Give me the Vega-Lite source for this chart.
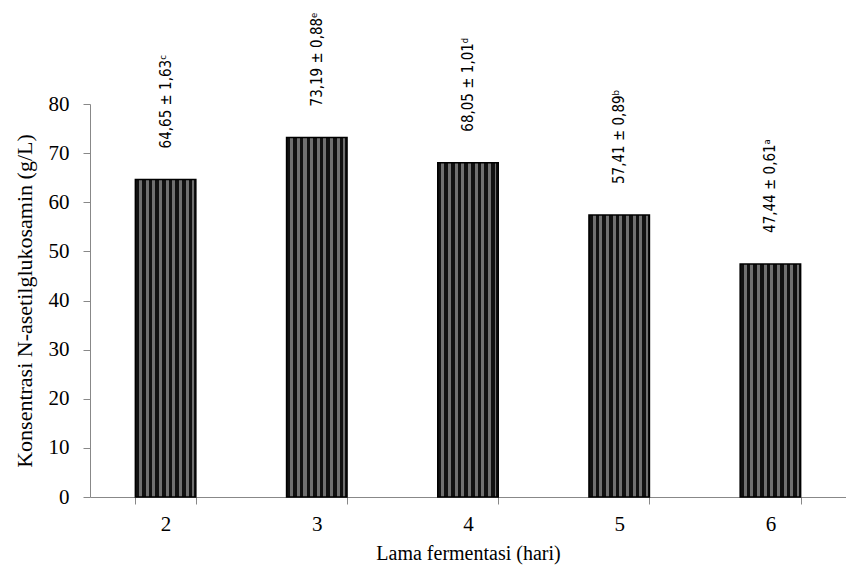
{
  "$schema": "https://vega.github.io/schema/vega-lite/v6.json",
  "width": 756,
  "height": 393,
  "autosize": {"type": "none"},
  "padding": {"left": 90, "top": 104, "right": 0, "bottom": 73},
  "background": "white",
  "config": {
    "view": {"stroke": null},
    "font": "Liberation Serif",
    "axis": {"labelFont": "Liberation Serif", "titleFont": "Liberation Serif"}
  },
  "data": {
    "values": [
      {"hari": "2", "nilai": 64.65, "label": "64,65 ± 1,63ᶜ"},
      {"hari": "3", "nilai": 73.19, "label": "73,19 ± 0,88ᵉ"},
      {"hari": "4", "nilai": 68.05, "label": "68,05 ± 1,01ᵈ"},
      {"hari": "5", "nilai": 57.41, "label": "57,41 ± 0,89ᵇ"},
      {"hari": "6", "nilai": 47.44, "label": "47,44 ± 0,61ᵃ"}
    ]
  },
  "encoding": {
    "x": {
      "field": "hari", "type": "ordinal",
      "scale": {"paddingInner": 0.6, "paddingOuter": 0.3},
      "axis": {
        "title": "Lama fermentasi (hari)",
        "titleFont": "Liberation Serif", "titleFontSize": 20, "titleFontWeight": "normal", "titleColor": "black",
        "titlePadding": 9,
        "labelFont": "Liberation Serif", "labelFontSize": 21, "labelColor": "black", "labelAngle": 0,
        "labelPadding": 9,
        "tickBand": "extent", "tickSize": 7, "tickColor": "#888888", "domainColor": "#888888",
        "grid": false
      }
    },
    "y": {
      "field": "nilai", "type": "quantitative",
      "scale": {"domain": [0, 80], "nice": false},
      "axis": {
        "title": "Konsentrasi N-asetilglukosamin (g/L)",
        "values": [0, 10, 20, 30, 40, 50, 60, 70, 80],
        "titleFont": "Liberation Serif", "titleFontSize": 22, "titleFontWeight": "normal", "titleColor": "black",
        "titlePadding": 12,
        "labelFont": "Liberation Serif", "labelFontSize": 21, "labelColor": "black",
        "labelPadding": 14,
        "tickSize": 7, "tickColor": "#888888", "domainColor": "#888888",
        "grid": false
      }
    }
  },
  "layer": [
    {
      "mark": {
        "type": "bar",
        "stroke": "black",
        "strokeWidth": 1.5,
        "fill": {
          "gradient": "linear", "x1": 0, "x2": 1, "y1": 0, "y2": 0,
          "stops": [
            {"offset": 0, "color": "#111111"}, {"offset": 0.06, "color": "#111111"},
            {"offset": 0.06, "color": "#707070"}, {"offset": 0.11, "color": "#707070"},
            {"offset": 0.11, "color": "#111111"}, {"offset": 0.17, "color": "#111111"},
            {"offset": 0.17, "color": "#707070"}, {"offset": 0.22, "color": "#707070"},
            {"offset": 0.22, "color": "#111111"}, {"offset": 0.28, "color": "#111111"},
            {"offset": 0.28, "color": "#707070"}, {"offset": 0.33, "color": "#707070"},
            {"offset": 0.33, "color": "#111111"}, {"offset": 0.39, "color": "#111111"},
            {"offset": 0.39, "color": "#707070"}, {"offset": 0.44, "color": "#707070"},
            {"offset": 0.44, "color": "#111111"}, {"offset": 0.50, "color": "#111111"},
            {"offset": 0.50, "color": "#707070"}, {"offset": 0.55, "color": "#707070"},
            {"offset": 0.55, "color": "#111111"}, {"offset": 0.61, "color": "#111111"},
            {"offset": 0.61, "color": "#707070"}, {"offset": 0.66, "color": "#707070"},
            {"offset": 0.66, "color": "#111111"}, {"offset": 0.72, "color": "#111111"},
            {"offset": 0.72, "color": "#707070"}, {"offset": 0.77, "color": "#707070"},
            {"offset": 0.77, "color": "#111111"}, {"offset": 0.83, "color": "#111111"},
            {"offset": 0.83, "color": "#707070"}, {"offset": 0.88, "color": "#707070"},
            {"offset": 0.88, "color": "#111111"}, {"offset": 0.94, "color": "#111111"},
            {"offset": 0.94, "color": "#707070"}, {"offset": 0.97, "color": "#707070"},
            {"offset": 0.97, "color": "#111111"}, {"offset": 1, "color": "#111111"}
          ]
        }
      }
    },
    {
      "mark": {
        "type": "text",
        "angle": 270,
        "align": "left",
        "baseline": "middle",
        "dx": 31,
        "font": "Liberation Sans Narrow, DejaVu Sans Condensed, Liberation Sans, sans-serif",
        "fontSize": 15,
        "color": "black"
      },
      "encoding": {"text": {"field": "label"}}
    }
  ]
}
